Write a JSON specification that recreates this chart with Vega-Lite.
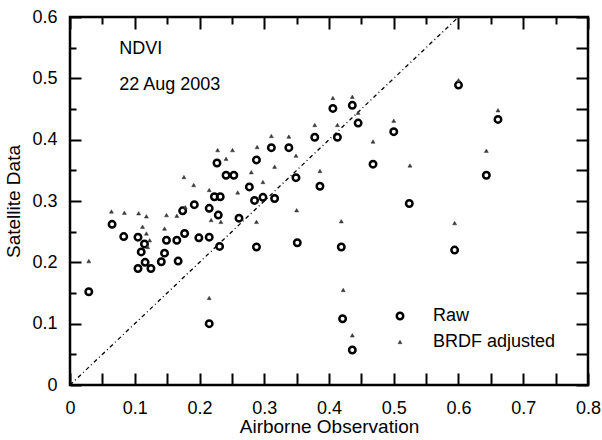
{
  "$schema": "https://vega.github.io/schema/vega-lite/v6.json",
  "width": 518,
  "height": 368,
  "autosize": {"type": "none"},
  "padding": {"left": 70, "top": 17, "right": 14, "bottom": 55},
  "background": "white",
  "config": {
    "view": {"stroke": "black", "strokeWidth": 2.5},
    "font": "Liberation Sans",
    "axis": {
      "grid": false,
      "domain": false,
      "ticks": true,
      "tickColor": "black",
      "tickWidth": 2,
      "labelColor": "black",
      "titleColor": "black",
      "labelFontSize": 18,
      "titleFontSize": 19,
      "titleFontWeight": "normal",
      "labelOverlap": false,
      "labelFlush": false
    }
  },
  "datasets": {
    "pts": [
      {"x": 0.029, "y": 0.152, "series": "Raw"},
      {"x": 0.065, "y": 0.262, "series": "Raw"},
      {"x": 0.083, "y": 0.242, "series": "Raw"},
      {"x": 0.105, "y": 0.241, "series": "Raw"},
      {"x": 0.115, "y": 0.230, "series": "Raw"},
      {"x": 0.110, "y": 0.217, "series": "Raw"},
      {"x": 0.116, "y": 0.200, "series": "Raw"},
      {"x": 0.105, "y": 0.190, "series": "Raw"},
      {"x": 0.125, "y": 0.190, "series": "Raw"},
      {"x": 0.141, "y": 0.201, "series": "Raw"},
      {"x": 0.146, "y": 0.215, "series": "Raw"},
      {"x": 0.149, "y": 0.236, "series": "Raw"},
      {"x": 0.165, "y": 0.236, "series": "Raw"},
      {"x": 0.177, "y": 0.247, "series": "Raw"},
      {"x": 0.167, "y": 0.202, "series": "Raw"},
      {"x": 0.199, "y": 0.240, "series": "Raw"},
      {"x": 0.215, "y": 0.241, "series": "Raw"},
      {"x": 0.231, "y": 0.226, "series": "Raw"},
      {"x": 0.174, "y": 0.284, "series": "Raw"},
      {"x": 0.192, "y": 0.294, "series": "Raw"},
      {"x": 0.215, "y": 0.288, "series": "Raw"},
      {"x": 0.229, "y": 0.277, "series": "Raw"},
      {"x": 0.261, "y": 0.272, "series": "Raw"},
      {"x": 0.223, "y": 0.307, "series": "Raw"},
      {"x": 0.232, "y": 0.307, "series": "Raw"},
      {"x": 0.285, "y": 0.301, "series": "Raw"},
      {"x": 0.298, "y": 0.306, "series": "Raw"},
      {"x": 0.316, "y": 0.304, "series": "Raw"},
      {"x": 0.277, "y": 0.323, "series": "Raw"},
      {"x": 0.241, "y": 0.342, "series": "Raw"},
      {"x": 0.253, "y": 0.342, "series": "Raw"},
      {"x": 0.227, "y": 0.362, "series": "Raw"},
      {"x": 0.288, "y": 0.367, "series": "Raw"},
      {"x": 0.288, "y": 0.225, "series": "Raw"},
      {"x": 0.351, "y": 0.232, "series": "Raw"},
      {"x": 0.215, "y": 0.100, "series": "Raw"},
      {"x": 0.311, "y": 0.387, "series": "Raw"},
      {"x": 0.338, "y": 0.387, "series": "Raw"},
      {"x": 0.349, "y": 0.338, "series": "Raw"},
      {"x": 0.378, "y": 0.404, "series": "Raw"},
      {"x": 0.386, "y": 0.324, "series": "Raw"},
      {"x": 0.406, "y": 0.451, "series": "Raw"},
      {"x": 0.413, "y": 0.404, "series": "Raw"},
      {"x": 0.436, "y": 0.456, "series": "Raw"},
      {"x": 0.445, "y": 0.427, "series": "Raw"},
      {"x": 0.468, "y": 0.360, "series": "Raw"},
      {"x": 0.500, "y": 0.413, "series": "Raw"},
      {"x": 0.524, "y": 0.296, "series": "Raw"},
      {"x": 0.600, "y": 0.489, "series": "Raw"},
      {"x": 0.661, "y": 0.433, "series": "Raw"},
      {"x": 0.643, "y": 0.342, "series": "Raw"},
      {"x": 0.594, "y": 0.220, "series": "Raw"},
      {"x": 0.419, "y": 0.225, "series": "Raw"},
      {"x": 0.421, "y": 0.108, "series": "Raw"},
      {"x": 0.436, "y": 0.057, "series": "Raw"},
      {"x": 0.029, "y": 0.202, "series": "BRDF adjusted"},
      {"x": 0.064, "y": 0.283, "series": "BRDF adjusted"},
      {"x": 0.084, "y": 0.281, "series": "BRDF adjusted"},
      {"x": 0.106, "y": 0.280, "series": "BRDF adjusted"},
      {"x": 0.118, "y": 0.275, "series": "BRDF adjusted"},
      {"x": 0.112, "y": 0.258, "series": "BRDF adjusted"},
      {"x": 0.118, "y": 0.247, "series": "BRDF adjusted"},
      {"x": 0.123, "y": 0.236, "series": "BRDF adjusted"},
      {"x": 0.120, "y": 0.225, "series": "BRDF adjusted"},
      {"x": 0.149, "y": 0.277, "series": "BRDF adjusted"},
      {"x": 0.165, "y": 0.276, "series": "BRDF adjusted"},
      {"x": 0.146, "y": 0.255, "series": "BRDF adjusted"},
      {"x": 0.176, "y": 0.339, "series": "BRDF adjusted"},
      {"x": 0.191, "y": 0.326, "series": "BRDF adjusted"},
      {"x": 0.178, "y": 0.290, "series": "BRDF adjusted"},
      {"x": 0.215, "y": 0.318, "series": "BRDF adjusted"},
      {"x": 0.218, "y": 0.269, "series": "BRDF adjusted"},
      {"x": 0.233, "y": 0.266, "series": "BRDF adjusted"},
      {"x": 0.228, "y": 0.383, "series": "BRDF adjusted"},
      {"x": 0.251, "y": 0.383, "series": "BRDF adjusted"},
      {"x": 0.241, "y": 0.369, "series": "BRDF adjusted"},
      {"x": 0.259, "y": 0.314, "series": "BRDF adjusted"},
      {"x": 0.280, "y": 0.347, "series": "BRDF adjusted"},
      {"x": 0.298, "y": 0.331, "series": "BRDF adjusted"},
      {"x": 0.288, "y": 0.266, "series": "BRDF adjusted"},
      {"x": 0.289, "y": 0.388, "series": "BRDF adjusted"},
      {"x": 0.316, "y": 0.356, "series": "BRDF adjusted"},
      {"x": 0.311, "y": 0.406, "series": "BRDF adjusted"},
      {"x": 0.338, "y": 0.405, "series": "BRDF adjusted"},
      {"x": 0.349, "y": 0.374, "series": "BRDF adjusted"},
      {"x": 0.350, "y": 0.285, "series": "BRDF adjusted"},
      {"x": 0.215, "y": 0.142, "series": "BRDF adjusted"},
      {"x": 0.378, "y": 0.424, "series": "BRDF adjusted"},
      {"x": 0.386, "y": 0.349, "series": "BRDF adjusted"},
      {"x": 0.406, "y": 0.468, "series": "BRDF adjusted"},
      {"x": 0.413, "y": 0.424, "series": "BRDF adjusted"},
      {"x": 0.436, "y": 0.470, "series": "BRDF adjusted"},
      {"x": 0.445, "y": 0.444, "series": "BRDF adjusted"},
      {"x": 0.468, "y": 0.397, "series": "BRDF adjusted"},
      {"x": 0.500, "y": 0.431, "series": "BRDF adjusted"},
      {"x": 0.525, "y": 0.358, "series": "BRDF adjusted"},
      {"x": 0.600, "y": 0.497, "series": "BRDF adjusted"},
      {"x": 0.661, "y": 0.448, "series": "BRDF adjusted"},
      {"x": 0.643, "y": 0.382, "series": "BRDF adjusted"},
      {"x": 0.594, "y": 0.264, "series": "BRDF adjusted"},
      {"x": 0.419, "y": 0.267, "series": "BRDF adjusted"},
      {"x": 0.422, "y": 0.155, "series": "BRDF adjusted"},
      {"x": 0.436, "y": 0.081, "series": "BRDF adjusted"}
    ],
    "oneToOne": [
      {"x": 0, "y": 0},
      {"x": 0.6, "y": 0.6}
    ]
  },
  "layer": [
    {
      "data": {"name": "oneToOne"},
      "mark": {"type": "line", "color": "black", "strokeWidth": 1.3, "strokeDash": [4, 3, 1, 3]},
      "encoding": {
        "x": {"field": "x", "type": "quantitative", "scale": {"domain": [0, 0.8], "nice": false},
          "axis": {"orient": "top", "title": null, "labels": false,
            "values": [0,0.05,0.1,0.15,0.2,0.25,0.3,0.35,0.4,0.45,0.5,0.55,0.6,0.65,0.7,0.75,0.8],
            "tickSize": {"condition": {"test": "round(datum.value*20)%2==0", "value": -12}, "value": -7}}},
        "y": {"field": "y", "type": "quantitative", "scale": {"domain": [0, 0.6], "nice": false},
          "axis": {"orient": "right", "title": null, "labels": false,
            "values": [0,0.05,0.1,0.15,0.2,0.25,0.3,0.35,0.4,0.45,0.5,0.55,0.6],
            "tickSize": -12}}
      }
    },
    {
      "data": {"name": "pts"},
      "mark": {"type": "point", "opacity": 1},
      "encoding": {
        "x": {"field": "x", "type": "quantitative",
          "axis": {"orient": "bottom", "title": "Airborne Observation",
            "values": [0,0.05,0.1,0.15,0.2,0.25,0.3,0.35,0.4,0.45,0.5,0.55,0.6,0.65,0.7,0.75,0.8],
            "labelExpr": "round(datum.value*20)%2==0 ? format(datum.value,'~g') : ''",
            "labelPadding": 26, "titlePadding": 0,
            "tickSize": -12}},
        "y": {"field": "y", "type": "quantitative",
          "axis": {"orient": "left", "title": "Satellite Data",
            "values": [0,0.05,0.1,0.15,0.2,0.25,0.3,0.35,0.4,0.45,0.5,0.55,0.6],
            "labelExpr": "round(datum.value*20)%2==0 ? format(datum.value,'~g') : ''",
            "labelPadding": 24, "titlePadding": 8,
            "tickSize": {"expr": "round(datum.value*20)%2==0 ? -11 : -6"}}},
        "shape": {"field": "series", "type": "nominal",
          "scale": {"domain": ["Raw", "BRDF adjusted"], "range": ["circle", "triangle-up"]},
          "legend": {"orient": "none", "legendX": 321, "legendY": 290, "title": null, "padding": 0,
            "labelFontSize": 18, "labelColor": "black", "labelOffset": 24, "rowPadding": 8}},
        "size": {"field": "series", "type": "nominal",
          "scale": {"domain": ["Raw", "BRDF adjusted"], "range": [42, 16]}},
        "strokeWidth": {"field": "series", "type": "nominal",
          "scale": {"domain": ["Raw", "BRDF adjusted"], "range": [2.5, 0.5]}},
        "fill": {"field": "series", "type": "nominal",
          "scale": {"domain": ["Raw", "BRDF adjusted"], "range": ["transparent", "#3a3a3a"]}},
        "stroke": {"field": "series", "type": "nominal",
          "scale": {"domain": ["Raw", "BRDF adjusted"], "range": ["#000000", "#3a3a3a"]}}
      }
    },
    {
      "data": {"values": [{}]},
      "mark": {"type": "text", "align": "left", "baseline": "middle", "fontSize": 18, "text": "NDVI", "color": "black"},
      "encoding": {"x": {"datum": 0.076, "type": "quantitative", "axis": null}, "y": {"datum": 0.548, "type": "quantitative", "axis": null}}
    },
    {
      "data": {"values": [{}]},
      "mark": {"type": "text", "align": "left", "baseline": "middle", "fontSize": 18, "text": "22 Aug  2003", "color": "black"},
      "encoding": {"x": {"datum": 0.076, "type": "quantitative", "axis": null}, "y": {"datum": 0.489, "type": "quantitative", "axis": null}}
    }
  ]
}
